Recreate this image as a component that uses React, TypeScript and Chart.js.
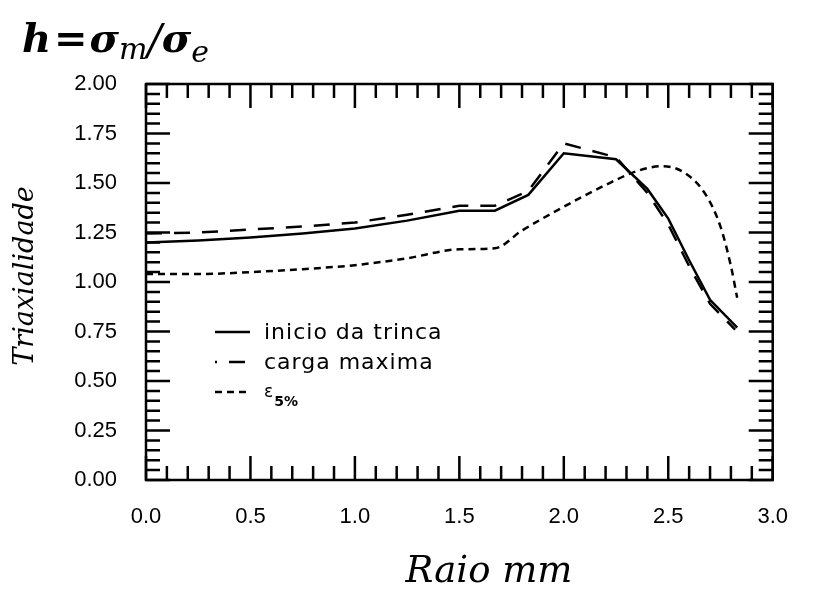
import { useEffect, useRef } from "react";
import { Chart, registerables } from "chart.js";

Chart.register(...registerables);

// ---- data ----
const seriesLabels = ["inicio da trinca", "carga maxima", "ε5%"];

const solidX = [0, 0.25, 0.5, 0.75, 1.0, 1.25, 1.5, 1.67, 1.83, 2.0, 2.25, 2.4, 2.5, 2.6, 2.7, 2.83];
const solidY = [1.2, 1.21, 1.225, 1.245, 1.27, 1.31, 1.36, 1.36, 1.44, 1.65, 1.62, 1.47, 1.32, 1.11, 0.91, 0.77];

const dashX = [0, 0.25, 0.5, 0.75, 1.0, 1.25, 1.5, 1.67, 1.83, 2.0, 2.25, 2.4, 2.5, 2.6, 2.7, 2.82];
const dashY = [1.245, 1.25, 1.265, 1.28, 1.3, 1.34, 1.385, 1.385, 1.46, 1.7, 1.63, 1.45, 1.29, 1.08, 0.89, 0.76];

const dotX = [0, 0.25, 0.5, 0.75, 1.0, 1.25, 1.5, 1.67, 1.8, 2.0, 2.2, 2.35, 2.47, 2.58, 2.68, 2.75, 2.8, 2.83];
const dotY = [1.04, 1.04, 1.05, 1.065, 1.085, 1.12, 1.165, 1.17, 1.26, 1.38, 1.49, 1.56, 1.585, 1.55, 1.44, 1.28, 1.08, 0.92];

const xTickValues = [0, 0.5, 1.0, 1.5, 2.0, 2.5, 3.0];
const xTickLabels = ["0.0", "0.5", "1.0", "1.5", "2.0", "2.5", "3.0"];
const yTickValues = [0, 0.25, 0.5, 0.75, 1.0, 1.25, 1.5, 1.75, 2.0];
const yTickLabels = ["0.00", "0.25", "0.50", "0.75", "1.00", "1.25", "1.50", "1.75", "2.00"];
const xMinorStep = 0.1;
const yMinorStep = 0.05;

const xTitle = "Raio mm";
const yTitle = "Triaxialidade";

const toPoints = (xs: number[], ys: number[]) => xs.map((x, i) => ({ x, y: ys[i] }));

const dashStyles = [[], [16, 12], [7, 5]];

const decorPlugin = {
  id: "decor",
  afterDraw(chart: any) {
    const ctx = chart.ctx as CanvasRenderingContext2D;
    const { left, right, top, bottom } = chart.chartArea;
    const xs = chart.scales.x;
    const ys = chart.scales.y;
    ctx.save();
    ctx.strokeStyle = "#000";
    ctx.fillStyle = "#000";
    ctx.lineWidth = 2.5;
    ctx.setLineDash([]);
    ctx.lineCap = "butt";
    // frame
    ctx.strokeRect(left, top, right - left, bottom - top);
    // x ticks (bottom + top, inward)
    const nx = Math.round((xs.max - xs.min) / xMinorStep);
    for (let i = 0; i <= nx; i++) {
      const v = xs.min + i * xMinorStep;
      const px = xs.getPixelForValue(v);
      const major = Math.abs(v / 0.5 - Math.round(v / 0.5)) < 1e-6;
      const len = major ? 24 : 14;
      ctx.beginPath();
      ctx.moveTo(px, bottom);
      ctx.lineTo(px, bottom - len);
      ctx.moveTo(px, top);
      ctx.lineTo(px, top + len);
      ctx.stroke();
    }
    const ny = Math.round((ys.max - ys.min) / yMinorStep);
    for (let i = 0; i <= ny; i++) {
      const v = ys.min + i * yMinorStep;
      const py = ys.getPixelForValue(v);
      const major = Math.abs(v / 0.25 - Math.round(v / 0.25)) < 1e-6;
      const len = major ? 24 : 14;
      ctx.beginPath();
      ctx.moveTo(left, py);
      ctx.lineTo(left + len, py);
      ctx.moveTo(right, py);
      ctx.lineTo(right - len, py);
      ctx.stroke();
    }

    // legend
    const lx1 = 207;
    const lx2 = 242;
    const tx = 256;
    const rowY = [324, 354, 384];
    for (let i = 0; i < 3; i++) {
      ctx.save();
      ctx.lineWidth = 2.5;
      ctx.setLineDash(dashStyles[i]);
      ctx.lineDashOffset = i === 1 ? 14 : 0;
      ctx.beginPath();
      ctx.moveTo(lx1, rowY[i]);
      ctx.lineTo(lx2, rowY[i]);
      ctx.stroke();
      ctx.restore();
    }
    ctx.textAlign = "left";
    ctx.textBaseline = "alphabetic";
    ctx.font = "22px 'DejaVu Sans'";
    (ctx as any).letterSpacing = "1px";
    ctx.fillText(seriesLabels[0], tx, rowY[0] + 7);
    ctx.fillText(seriesLabels[1], tx, rowY[1] + 7);
    (ctx as any).letterSpacing = "0px";
    // epsilon with subscript 5%
    ctx.font = "17px 'DejaVu Sans'";
    const eps = seriesLabels[2].charAt(0);
    const sub = seriesLabels[2].slice(1);
    ctx.fillText(eps, tx, rowY[2] + 5);
    const ew = ctx.measureText(eps).width;
    ctx.font = "bold 14px 'DejaVu Sans'";
    ctx.fillText(sub, tx + ew + 1, rowY[2] + 14);

    // axis titles
    ctx.font = "italic 37px 'DejaVu Serif'";
    ctx.textAlign = "center";
    ctx.fillText(xTitle, 481, 574);

    ctx.save();
    ctx.translate(18, (top + bottom) / 2 - 6);
    ctx.rotate(-Math.PI / 2);
    ctx.font = "italic 27px 'DejaVu Serif'";
    ctx.textAlign = "center";
    ctx.textBaseline = "middle";
    ctx.fillText(yTitle, 0, 0);
    ctx.restore();

    // top-left formula h = σm/σe
    ctx.textAlign = "left";
    ctx.textBaseline = "alphabetic";
    let x = 14;
    const base = 44;
    const bigFont = "bold italic 40px 'DejaVu Serif'";
    const subFont = "italic 30px 'DejaVu Serif'";
    const parts: [string, string, number, number][] = [
      ["h", bigFont, 0, 3],
      ["=", "bold 40px 'DejaVu Serif'", 0, 2],
      ["σ", bigFont, 0, 0],
      ["m", subFont, 7, 0],
      ["/", "italic 42px 'DejaVu Serif'", 2, 0],
      ["σ", bigFont, 0, 0],
      ["e", subFont, 10, 0],
    ];
    for (const [t, f, dy, gap] of parts) {
      ctx.font = f;
      ctx.fillText(t, x, base + dy);
      x += ctx.measureText(t).width + gap;
    }
    ctx.restore();
  },
};

export default function App() {
  const ref = useRef<HTMLCanvasElement | null>(null);

  useEffect(() => {
    if (!ref.current) return;
    const tickFont = { family: "'Liberation Sans', Arial, sans-serif", size: 22 };
    const chart = new Chart(ref.current, {
      type: "line",
      data: {
        datasets: [
          {
            label: seriesLabels[0],
            data: toPoints(solidX, solidY),
            borderColor: "#000",
            borderWidth: 2.5,
            pointRadius: 0,
            tension: 0,
            fill: false,
          },
          {
            label: seriesLabels[1],
            data: toPoints(dashX, dashY),
            borderColor: "#000",
            borderWidth: 2.5,
            borderDash: dashStyles[1],
            pointRadius: 0,
            tension: 0,
            fill: false,
          },
          {
            label: seriesLabels[2],
            data: toPoints(dotX, dotY),
            borderColor: "#000",
            borderWidth: 2.5,
            borderDash: dashStyles[2],
            pointRadius: 0,
            cubicInterpolationMode: "monotone",
            fill: false,
          },
        ],
      },
      options: {
        responsive: false,
        animation: false,
        layout: { padding: { top: 76, right: 14, left: 0, bottom: 0 } },
        plugins: { legend: { display: false }, tooltip: { enabled: false } },
        scales: {
          x: {
            type: "linear",
            min: 0,
            max: 3,
            grid: { display: false, drawTicks: false },
            border: { display: false },
            afterBuildTicks: (s: any) => {
              s.ticks = xTickValues.map((v) => ({ value: v }));
            },
            afterFit: (s: any) => {
              s.height = 110;
            },
            ticks: {
              color: "#000",
              font: tickFont,
              padding: 24,
              maxRotation: 0,
              autoSkip: false,
              callback: (_v: any, i: number) => xTickLabels[i],
            },
          },
          y: {
            type: "linear",
            min: 0,
            max: 2,
            grid: { display: false, drawTicks: false },
            border: { display: false },
            afterBuildTicks: (s: any) => {
              s.ticks = yTickValues.map((v) => ({ value: v }));
            },
            afterFit: (s: any) => {
              s.width = 138;
            },
            ticks: {
              color: "#000",
              font: tickFont,
              padding: 29,
              autoSkip: false,
              callback: (_v: any, i: number) => yTickLabels[i],
            },
          },
        },
      },
      plugins: [decorPlugin],
    } as any);
    return () => chart.destroy();
  }, []);

  return (
    <div style={{ position: "relative", width: 804, height: 582 }}>
      <canvas ref={ref} width={804} height={582} style={{ display: "block" }} />
    </div>
  );
}
